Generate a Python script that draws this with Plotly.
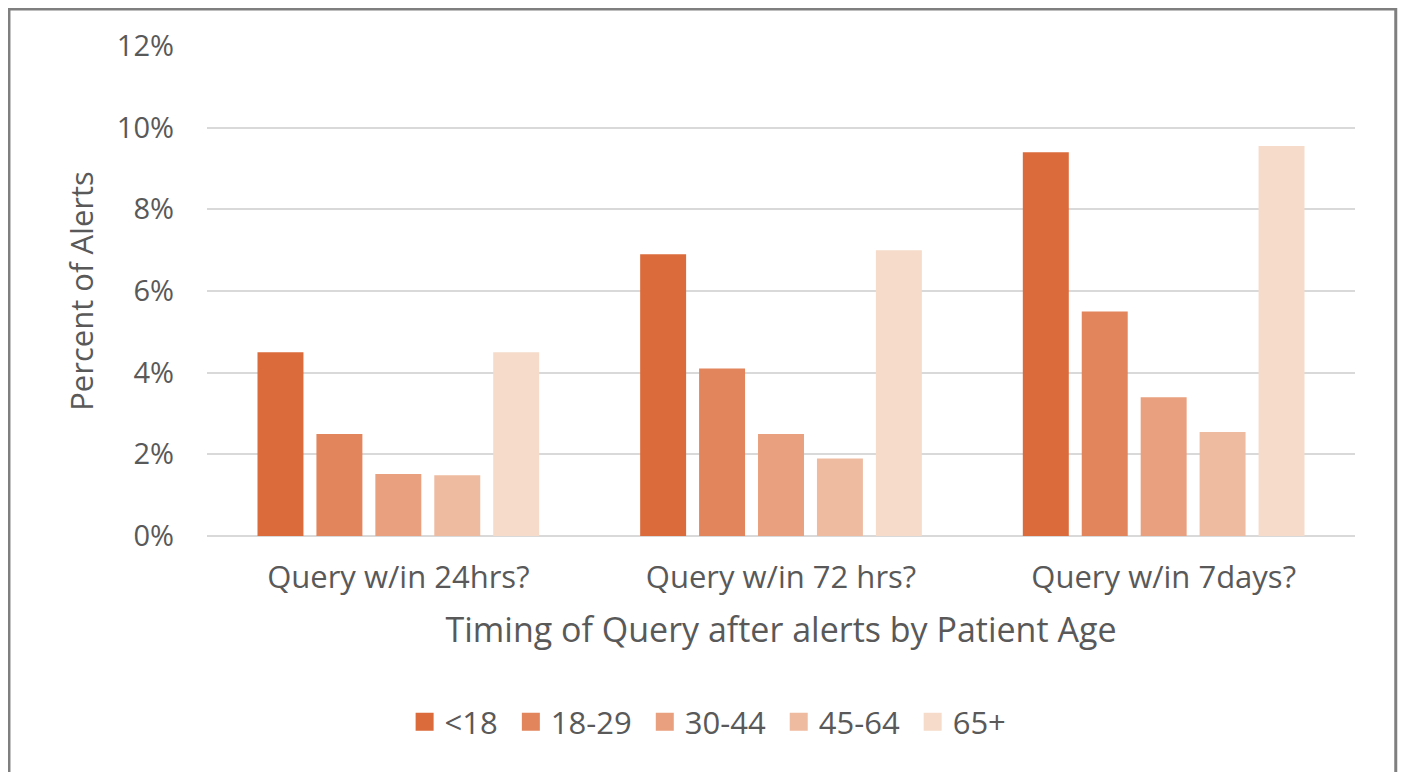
import plotly.graph_objects as go

categories = ["Query w/in 24hrs?", "Query w/in 72 hrs?", "Query w/in 7days?"]
age_groups = ["<18", "18-29", "30-44", "45-64", "65+"]
values = {
    "<18":   [0.045, 0.069, 0.094],
    "18-29": [0.025, 0.041, 0.055],
    "30-44": [0.0152, 0.025, 0.034],
    "45-64": [0.0149, 0.019, 0.0255],
    "65+":   [0.045, 0.070, 0.0955],
}
colors = ["#DC6B3C", "#E2855D", "#E9A07E", "#EFBBA0", "#F6DBCA"]

FONT = "Open Sans"
GRAY = "#595959"

fig = go.Figure()
for g, c in zip(age_groups, colors):
    fig.add_trace(go.Bar(x=categories, y=values[g], name=g, legendgroup=g,
                         showlegend=False,
                         marker=dict(color=c, line=dict(width=0))))
# legend entries with larger square swatches
for g, c in zip(age_groups, colors):
    fig.add_trace(go.Scatter(x=[None], y=[None], mode="markers", name=g + "\u00a0",
                             legendgroup=g, hoverinfo="skip",
                             marker=dict(symbol="square", size=16, color=c,
                                         line=dict(width=2, color=c))))

fig.update_layout(
    width=1406, height=772,
    margin=dict(l=199, r=59, t=38, b=244),
    paper_bgcolor="white", plot_bgcolor="white",
    barmode="group", bargap=0.23, bargroupgap=0.22,
    font=dict(family=FONT, color=GRAY, size=24),
    showlegend=True,
    legend=dict(orientation="h", x=0.44, xanchor="center", y=-0.38, yanchor="middle",
                font=dict(size=31, color=GRAY, family=FONT), traceorder="normal",
                itemwidth=30, itemsizing="trace"),
    xaxis=dict(showline=False, ticks="", tickfont=dict(size=31, color=GRAY),
               ticklabelstandoff=20,
               title=dict(text="Timing of Query after alerts by Patient Age",
                          font=dict(size=34, color=GRAY), standoff=22)),
    yaxis=dict(range=[0, 0.12], dtick=0.02, tickformat=".0%",
               showgrid=True, gridcolor="#D9D9D9", gridwidth=2,
               zeroline=True, zerolinecolor="#D9D9D9", zerolinewidth=2,
               showline=False, ticks="", layer="above traces",
               tickfont=dict(size=29, color=GRAY), ticklabelstandoff=32,
               title=dict(text="Percent of Alerts", font=dict(size=31, color=GRAY), standoff=14)),
    shapes=[dict(type="rect", xref="paper", yref="paper",
                 x0=-0.1725, x1=1.0355, y0=-0.7, y1=1.0755,
                 line=dict(color="#7F7F7F", width=3), layer="above")],
)

fig.write_html("out.html")
